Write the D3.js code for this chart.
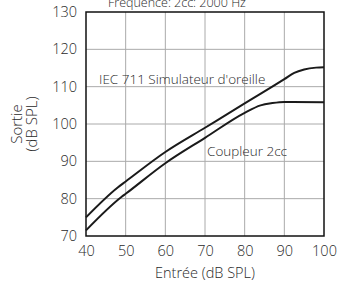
<!DOCTYPE html>
<html><head><meta charset="utf-8">
<script src="https://cdn.jsdelivr.net/npm/d3@7"></script>
<style>body{margin:0;background:#fff}svg{display:block}text{font-family:"Open Sans",sans-serif;font-weight:300}</style>
</head><body>
<script>
const title = "Fréquence: 2cc: 2000 Hz";
const xTicks = [40,50,60,70,80,90,100];
const yTicks = [70,80,90,100,110,120,130];
const iecIn  = [40,48,50,60,70,80,90,92.5,95,98,100];
const iecOut = [75,83,84.6,92.5,99,105.5,112,113.7,114.6,115.1,115.2];
const cplIn  = [40,49,50,60,70,80,84,87,90,100];
const cplOut = [71.5,80.5,81.3,89.5,96.3,103,105,105.6,105.9,105.8];
const seriesLabels = ["IEC 711 Simulateur d'oreille","Coupleur 2cc"];

const W=339,H=284, m={l:86,r:15,t:12,b:48};
const svg=d3.select("body").append("svg").attr("width",W).attr("height",H);
const x=d3.scaleLinear().domain([40,100]).range([m.l,W-m.r]);
const y=d3.scaleLinear().domain([70,130]).range([H-m.b,m.t]);
const tc="#2a2a2a";

const g=svg.append("g");
g.selectAll(".vg").data(xTicks.slice(1,-1)).join("line")
 .attr("x1",d=>x(d)).attr("x2",d=>x(d)).attr("y1",y(70)).attr("y2",y(130))
 .attr("stroke","#aaa").attr("stroke-width",1);
g.selectAll(".hg").data(yTicks.slice(1,-1)).join("line")
 .attr("y1",d=>y(d)).attr("y2",d=>y(d)).attr("x1",x(40)).attr("x2",x(100))
 .attr("stroke","#aaa").attr("stroke-width",1);
g.append("rect").attr("x",x(40)).attr("y",y(130)).attr("width",x(100)-x(40)).attr("height",y(70)-y(130))
 .attr("fill","none").attr("stroke","#111").attr("stroke-width",1.5);

const xa=svg.append("g").attr("transform",`translate(0,${y(70)})`)
 .call(d3.axisBottom(x).tickValues(xTicks).tickSize(0).tickPadding(10));
const ya=svg.append("g").attr("transform",`translate(${x(40)},0)`)
 .call(d3.axisLeft(y).tickValues(yTicks).tickSize(0).tickPadding(9));
[xa,ya].forEach(a=>{a.select(".domain").remove();a.selectAll("text").attr("font-size",14.5).attr("fill",tc).attr("font-family","Open Sans").attr("font-weight",300);});

const line=d3.line().x(d=>x(d[0])).y(d=>y(d[1])).curve(d3.curveMonotoneX);
[[iecIn,iecOut],[cplIn,cplOut]].forEach(([a,b])=>{
 svg.append("path").attr("d",line(a.map((v,i)=>[v,b[i]]))).attr("fill","none")
  .attr("stroke","#1a1a1a").attr("stroke-width",2);
});

svg.append("text").attr("x",99).attr("y",84).attr("font-size",13.5).attr("fill",tc).text(seriesLabels[0]);
svg.append("text").attr("x",207).attr("y",156).attr("font-size",13.5).attr("fill",tc).text(seriesLabels[1]);
svg.append("text").attr("x",108).attr("y",7).attr("font-size",12.5).attr("fill",tc).text(title);
svg.append("text").attr("x",x(70)).attr("y",278).attr("text-anchor","middle").attr("font-size",14.5).attr("fill",tc).text("Entrée (dB SPL)");
const yc=(y(70)+y(130))/2;
svg.append("text").attr("transform",`translate(22,${yc}) rotate(-90)`).attr("text-anchor","middle").attr("font-size",15).attr("fill",tc).text("Sortie");
svg.append("text").attr("transform",`translate(37,${yc}) rotate(-90)`).attr("text-anchor","middle").attr("font-size",15).attr("fill",tc).text("(dB SPL)");
</script>
</body></html>
